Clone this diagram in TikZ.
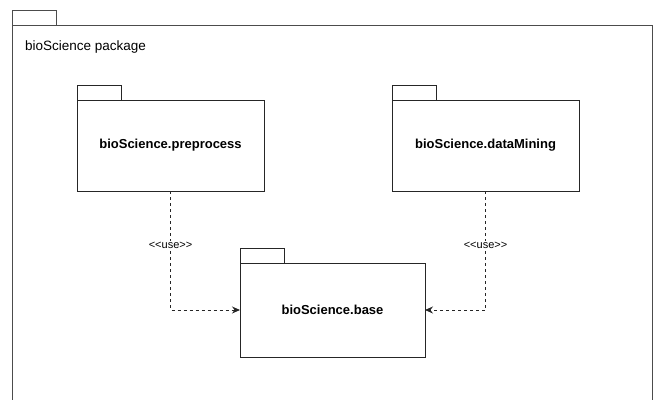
\documentclass[tikz,border=0pt]{standalone}
\usepackage{fontspec}
\setmainfont{Liberation Sans}
\usetikzlibrary{arrows.meta,positioning}

\begin{document}
\begin{tikzpicture}[x=1pt,y=-1pt,font=\fontsize{13.5}{16}\selectfont,
        pkg/.style={draw=black!85,line width=1pt,inner sep=0pt,outer sep=0pt,font=\fontsize{13}{16}\selectfont\bfseries},
        tab/.style={draw=black!85,line width=1pt,minimum width=44pt,minimum height=15pt,inner sep=0pt,outer sep=0pt,anchor=south west},
        uses/.style={draw=black!85,line width=1pt,dash pattern=on 3pt off 3pt,-{Stealth[length=8pt,width=7pt]}},
        stereo/.style={fill=white,inner sep=1pt,font=\fontsize{11}{13}\selectfont}]
    \useasboundingbox (0,0) rectangle (655,399);
    \clip (0,0) rectangle (655,399);

    % outer package, running off the bottom
    \node[pkg,draw=black!70,anchor=north west,minimum width=640pt,minimum height=400pt] (root) at (12,25) {};
    \node[tab,draw=black!70] (roottab) at (root.north west) {};
    \node[anchor=west,inner sep=0pt] (rootname) at (25,47) {bioScience package};

    % inner packages
    \node[pkg,minimum width=187pt,minimum height=91pt] (pre) at (170.5,145.5) {bioScience.preprocess};
    \node[pkg,minimum width=187pt,minimum height=91pt] (dm) at (485.5,145.5) {bioScience.dataMining};
    \node[pkg,minimum width=185pt,minimum height=94pt] (base) at (332.5,310) {bioScience.base};

    \foreach \p in {pre,dm,base}
        \node[tab] (\p tab) at (\p.north west) {};

    % dependencies
    \draw[uses] (pre.south) |- node[stereo,pos=0.23] (preuse) {<{}<use>{}>} (base.west);
    \draw[uses] (dm.south) |- node[stereo,pos=0.23] (dmuse) {<{}<use>{}>} (base.east);
\end{tikzpicture}
\end{document}
